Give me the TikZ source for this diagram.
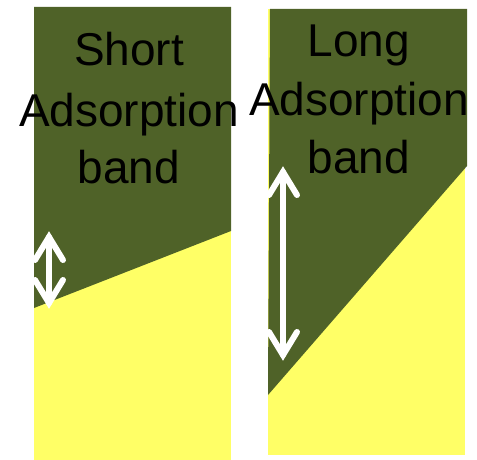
\documentclass[tikz,border=0pt]{standalone}
\usepackage{fontspec}
\setmainfont{Liberation Sans}
\usetikzlibrary{calc}
\definecolor{banddark}{HTML}{4F6228}
\definecolor{bandyellow}{HTML}{FFFF66}
\begin{document}
\begin{tikzpicture}[x=1pt,y=-1pt,
  lbl/.style={anchor=base, inner sep=0pt, text=black, font=\fontsize{46}{46}\selectfont},
  wa/.style={white, line width=6pt, line cap=round, line join=miter}]
\useasboundingbox (0,0) rectangle (477,460);
% left panel
\fill[bandyellow] (34,7) rectangle (231,460);
\fill[banddark] (34,7) -- (231,7) -- (231,231) -- (34,308) -- cycle;
% right panel
\fill[bandyellow] (268,9) rectangle (465,455);
\fill[banddark] (270,9) -- (467,9) -- (467,166) -- (268,395) -- cycle;
% texts
\node[lbl] (s1t) at (129,66) {Short};
\node[lbl] (s2t) at (129,127) {Adsorption};
\node[lbl] (s3t) at (129,183) {band};
\node[lbl] (l1t) at (359,57) {Long};
\node[lbl] (l2t) at (359,115) {Adsorption};
\node[lbl] (l3t) at (359,173) {band};
% arrows
\coordinate (sa) at (49,237);
\coordinate (sb) at (49,303);
\draw[wa] (sa) -- (sb);
\draw[wa] ($(sa)+(-14,23)$) -- (sa) -- ($(sa)+(14,23)$);
\draw[wa] ($(sb)+(-14,-23)$) -- (sb) -- ($(sb)+(14,-23)$);
\coordinate (la) at (283,172);
\coordinate (lb) at (283,355);
\draw[wa] (la) -- (lb);
\draw[wa] ($(la)+(-14,23)$) -- (la) -- ($(la)+(14,23)$);
\draw[wa] ($(lb)+(-14,-23)$) -- (lb) -- ($(lb)+(14,-23)$);
\end{tikzpicture}
\end{document}
